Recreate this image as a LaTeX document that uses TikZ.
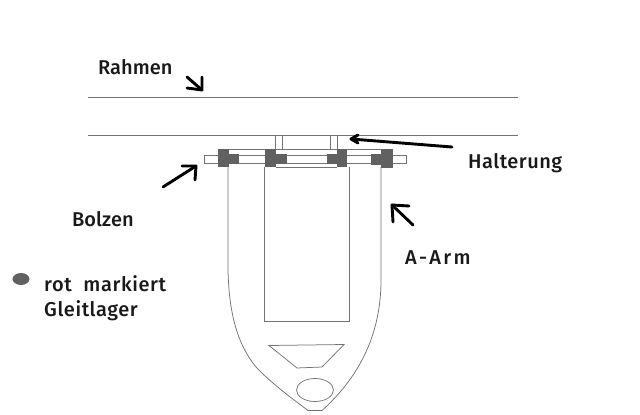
\documentclass[tikz,border=0pt]{standalone}
\usepackage{fontspec}
\setmainfont{Fira Sans}[BoldFont={Fira Sans Medium}]
\tikzset{
  thinline/.style={draw=black!55,line width=0.75pt},
  bearing/.style={draw=none,fill=black!62},
  penarrow/.style={draw=black,line width=2.9pt,line cap=round,line join=round},
  lbl/.style={font=\fontsize{20}{22}\selectfont\bfseries,text=black!90,inner sep=0pt,anchor=west}
}
\begin{document}
\begin{tikzpicture}[x=1pt,y=-1pt]
\useasboundingbox (0,0) rectangle (640,415);
% frame
\draw[thinline] (88,97) -- (518,97);
\draw[thinline] (88,135) -- (518,135);
% bracket
\draw[thinline] (275,135) -- (275,150);
\draw[thinline] (282,135) -- (282,150);
\draw[thinline] (330,135) -- (330,150);
\draw[thinline] (337,135) -- (337,150);
% bolt
\draw[thinline] (204,155) rectangle (406,163);
\draw[thinline] (229,149.5) -- (381,149.5);
\draw[thinline] (276,167) -- (337,167);
% inner rect
\draw[thinline] (264,167) -- (264,321) -- (349,321) -- (349,167);
% A-arm
\draw[thinline] (228,167) -- (228,270) .. controls (229,315) and (238,345) .. (256,367) .. controls (270,382) and (290,397) .. (308,410.5) -- (322,410.5) .. controls (350,385) and (381,345) .. (381,280) -- (381,167);
% trapezoid, ellipse
\draw[thinline] (269,345.5) -- (344,344.5) -- (322,367) -- (297,368) -- cycle;
\draw[thinline] (315,390) ellipse [x radius=18.5,y radius=11.5];
% bearings
\fill[bearing] (218,149) rectangle (229,167);
\fill[bearing] (229,153.5) rectangle (239,164);
\fill[bearing] (265,149) rectangle (276,167);
\fill[bearing] (276,153.5) rectangle (287,164);
\fill[bearing] (327,154) rectangle (337,164);
\fill[bearing] (337,149) rectangle (347,167);
\fill[bearing] (371,154) rectangle (381,165);
\fill[bearing] (381,149) rectangle (393,168);
\fill[bearing] (21,279) ellipse [x radius=8.5,y radius=6];
% labels
\node[lbl] (rahmen) at (98,67) {Rahmen};
\node[lbl] (halterung) at (468,163) {\addfontfeature{LetterSpace=2.5}Halterung};
\node[lbl] (bolzen) at (72,219) {Bolzen};
\node[lbl] (aarm) at (405,258) {\addfontfeature{LetterSpace=12}A-Arm};
\node[lbl] (rot) at (44,284) {\addfontfeature{LetterSpace=3}rot\hspace{6pt} markiert};
\node[lbl] (gleit) at (44,311) {\addfontfeature{LetterSpace=3}Gleitlager};
% arrows
\draw[penarrow] (187,77) -- (202,90);
\draw[penarrow] (187,88) -- (202,90) -- (202,77);
\draw[penarrow] (452,147) -- (351,139);
\draw[penarrow] (358,135) -- (351,139) -- (358,143);
\draw[penarrow] (163,187) -- (196,166);
\draw[penarrow] (182,166) -- (196,166) -- (195,180);
\draw[penarrow] (413,225) -- (392,205);
\draw[penarrow] (393,222) -- (392,205) -- (409,206);
\end{tikzpicture}
\end{document}
